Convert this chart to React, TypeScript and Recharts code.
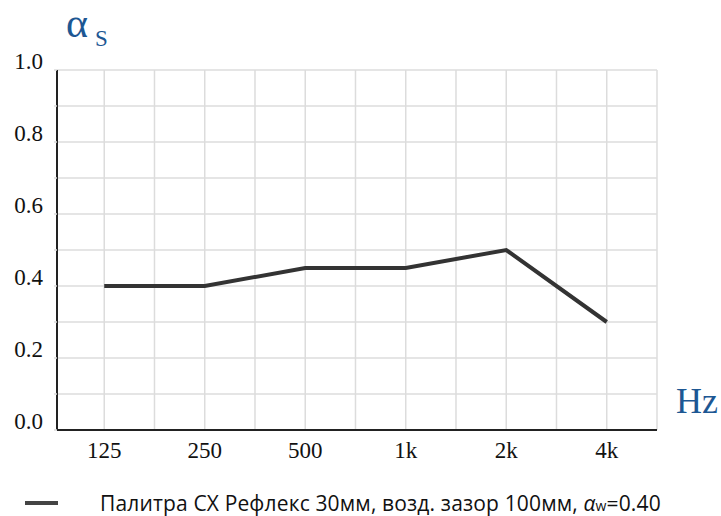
import React from "react";
import { CartesianGrid, Legend, Line, LineChart, XAxis, YAxis } from "recharts";

const freqs = ["125", "250", "500", "1k", "2k", "4k"];
const alpha = [0.4, 0.4, 0.45, 0.45, 0.5, 0.3];
const yTicks = [0, 0.1, 0.2, 0.3, 0.4, 0.5, 0.6, 0.7, 0.8, 0.9, 1.0];
const legendName = "Палитра СХ Рефлекс 30мм, возд. зазор 100мм, ";
const alphaW = "0.40";

const data = freqs.map((f, i) => ({ idx: i, freq: f, alpha: alpha[i] }));
// vertical grid lines sit on every category and halfway between them
const xTicks = freqs.flatMap((_, i) => [i, i + 0.5]);

const BLUE = "#1d5793";
const SERIF = "'Liberation Serif', 'DejaVu Serif', serif";

function YTick({ x, y, payload }: any) {
	const v = payload.value as number;
	if (Math.round(v * 10) % 2 !== 0) return <g />;
	return (
		<text x={x} y={y - 1} textAnchor='end' fill='#111' fontSize={23} fontFamily={SERIF}>
			{v.toFixed(1)}
		</text>
	);
}

function XTick({ x, y, payload }: any) {
	const v = payload.value as number;
	if (!Number.isInteger(v)) return <g />;
	return (
		<text x={x} y={y + 28} textAnchor='middle' fill='#111' fontSize={23} fontFamily={SERIF}>
			{freqs[v]}
		</text>
	);
}

function LegendBox() {
	return (
		<div style={{ display: "flex", alignItems: "center", height: 56, width: 721, paddingTop: 32, boxSizing: "border-box" }}>
			<div style={{ marginLeft: 25, width: 33, height: 4, background: "#444", marginTop: -3 }} />
			<div
				style={{
					marginLeft: 42,
					width: 600,
					lineHeight: "22px",
					fontSize: 21,
					letterSpacing: 0.15,
					fontFamily: "'Open Sans', sans-serif",
					color: "#111",
					whiteSpace: "nowrap",
				}}
			>
				{legendName}
				<span style={{ fontStyle: "italic" }}>α</span>
				<span style={{ fontSize: 14 }}>w</span>={alphaW}
			</div>
		</div>
	);
}

export default function App() {
	return (
		<div style={{ position: "absolute", left: 0, top: 0, width: 721, height: 516, background: "#fff" }}>
			<LineChart width={721} height={516} data={data} margin={{ top: 70, right: 64, left: 7, bottom: 0 }}>
				<CartesianGrid stroke='#dcdcdc' strokeWidth={1.5} />
				<XAxis
					dataKey='idx'
					type='number'
					domain={[-0.47, 5.5]}
					ticks={xTicks}
					tick={<XTick />}
					tickLine={false}
					tickSize={0}
					tickMargin={0}
					height={30}
					axisLine={{ stroke: "#222", strokeWidth: 2 }}
					interval={0}
					allowDecimals
				/>
				<YAxis
					type='number'
					domain={[0, 1]}
					ticks={yTicks}
					interval={0}
					width={50}
					tick={<YTick />}
					tickSize={3}
					tickMargin={11}
					tickLine={{ stroke: "#dcdcdc", strokeWidth: 1.5 }}
					axisLine={{ stroke: "#222", strokeWidth: 2 }}
					label={{
						content: () => (
							<g>
								<text x={66} y={37} fill={BLUE} fontSize={42} fontFamily={SERIF}>
									α
								</text>
								<text x={95} y={46} fill={BLUE} fontSize={23} fontFamily={SERIF}>
									S
								</text>
								<text x={676} y={413} fill={BLUE} fontSize={36} fontFamily={SERIF}>
									Hz
								</text>
							</g>
						),
					}}
				/>
				<Line
					type='linear'
					dataKey='alpha'
					stroke='#333'
					strokeWidth={4}
					dot={false}
					activeDot={false}
					isAnimationActive={false}
				/>
				<Legend
					verticalAlign='bottom'
					wrapperStyle={{ left: 0, bottom: 0, width: 721, height: 56 }}
					content={() => <LegendBox />}
				/>
			</LineChart>
		</div>
	);
}
